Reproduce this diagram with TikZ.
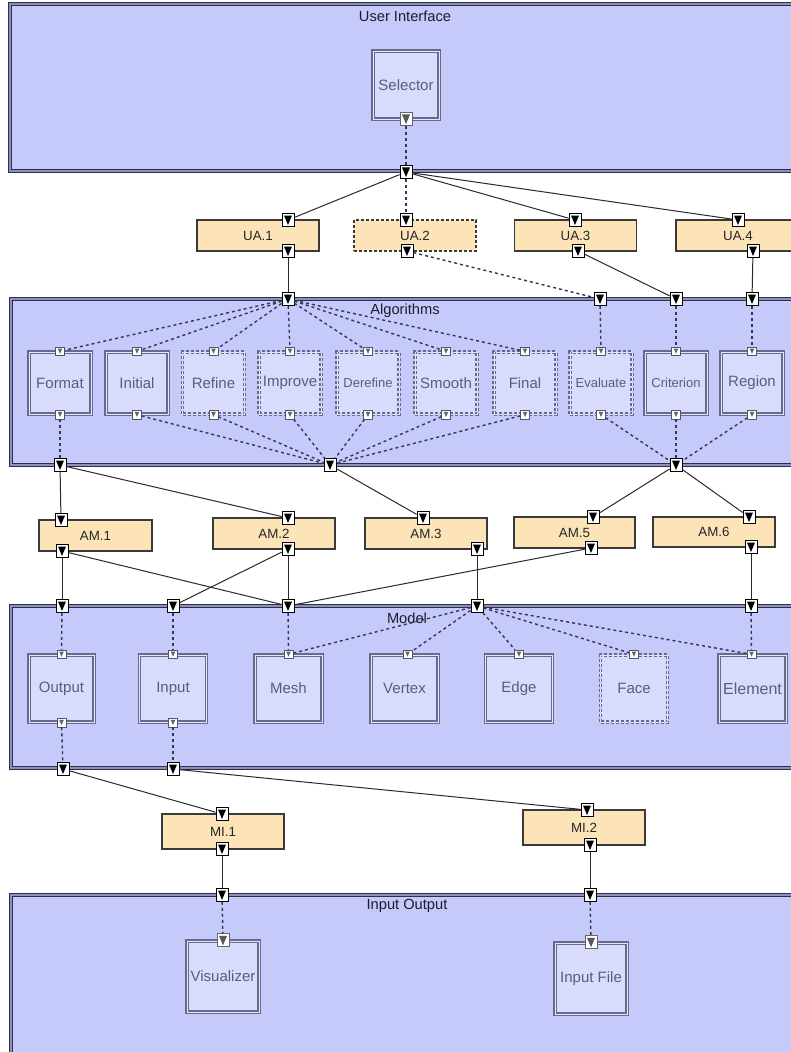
\documentclass[tikz,border=0pt]{standalone}
\usepackage{fontspec}
\setmainfont{Liberation Sans}
\usetikzlibrary{fit,calc}
\definecolor{bigfill}{HTML}{C6CAFA}
\definecolor{bigborder}{HTML}{2C3048}
\definecolor{bigdouble}{HTML}{8C90BC}
\definecolor{innerfill}{HTML}{D9DBFC}
\definecolor{innerborder}{HTML}{666A8C}
\definecolor{innerdouble}{HTML}{E6E7FB}
\definecolor{innertext}{HTML}{5A5C7C}
\definecolor{assocfill}{HTML}{FCE4B8}
\definecolor{assocborder}{HTML}{3A3A3A}
\definecolor{dashcol}{HTML}{34375C}
\definecolor{lineblack}{HTML}{2A2A2A}
\definecolor{titlecol}{HTML}{1C1C30}
\begin{document}
\begin{tikzpicture}[x=0.75pt,y=-0.75pt,
  bigbox/.style={draw=bigborder, line width=0.8pt, double=bigdouble, double distance=0.8pt, fill=bigfill, inner sep=0pt},
  innerbox/.style={draw=innerborder, line width=1pt, double=innerdouble, double distance=0.7pt, fill=innerfill, inner sep=0pt, text=innertext, font=\fontsize{11.25}{13}\selectfont},
  algbox/.style={minimum width=46.5pt, minimum height=46.5pt},
  modbox/.style={minimum width=50.25pt, minimum height=50.25pt},
  dashbox/.style={innerbox, dash pattern=on 2.25pt off 1.5pt},
  smalltext/.style={font=\fontsize{9.75}{11}\selectfont},
  bigtext/.style={font=\fontsize{12}{14}\selectfont},
  assoc/.style={fill=assocfill, draw=assocborder, line width=0.8pt, inner sep=0pt, text=black!85, font=\fontsize{10}{12}\selectfont, minimum width=91.5pt, minimum height=23.25pt},
  assocdash/.style={assoc, dash pattern=on 2.25pt off 1.5pt},
  title/.style={text=titlecol, inner sep=1pt, font=\fontsize{11}{13}\selectfont},
  bport/.style={rectangle, draw=black, fill=white, line width=0.6pt, minimum width=9pt, minimum height=9.75pt, inner sep=0pt,
    path picture={\fill[black] ($(path picture bounding box.north west)+(2,2)$) -- ($(path picture bounding box.north east)+(-2,2)$) -- ($(path picture bounding box.south)+(0,-1.5)$) -- cycle;}},
  gport/.style={rectangle, draw=black!60, fill=white, line width=0.6pt, minimum width=9pt, minimum height=9.75pt, inner sep=0pt,
    path picture={\fill[black!65] ($(path picture bounding box.north west)+(2,2)$) -- ($(path picture bounding box.north east)+(-2,2)$) -- ($(path picture bounding box.south)+(0,-1.5)$) -- cycle;}},
  sport/.style={rectangle, draw=innerborder!80!black, fill=white, line width=0.5pt, minimum width=6.5pt, minimum height=6.5pt, inner sep=0pt,
    path picture={\fill[black!60] ($(path picture bounding box.north west)+(2,1.5)$) -- ($(path picture bounding box.north east)+(-2,1.5)$) -- ($(path picture bounding box.south)+(0,-2)$) -- cycle;}},
  sline/.style={draw=lineblack, line width=0.75pt},
  dline/.style={draw=dashcol, line width=1.05pt, dash pattern=on 2.25pt off 2.25pt}
]
\useasboundingbox[fill=white] (0,0) rectangle (791,1052);
\clip (0,0) rectangle (791,1052);

% ---------- big containers ----------
\node[bigbox, fit={(10,4) (812,171)}] (ui) {};
\node[title] (uiT) at (405,16) {User Interface};
\node[bigbox, fit={(11,299) (812,465)}] (alg) {};
\node[title] (algT) at (405,311) {Algorithms};
\node[bigbox, fit={(11,606) (812,768)}] (model) {};
\node[title] (modelT) at (407,618) {Model};
\node[bigbox, fit={(11,895) (812,1062)}] (io) {};
\node[title] (ioT) at (407,906) {Input Output};

% ---------- inner components ----------
\node[innerbox, minimum width=49.5pt, minimum height=51pt] (sel) at (406,85) {Selector};

\node[innerbox, algbox] (format) at (60,383) {Format};
\node[innerbox, algbox] (initial) at (137,383) {Initial};
\node[dashbox, algbox] (refine) at (213.5,383) {Refine};
\node[dashbox, algbox] (improve) at (290,383) {Improve};
\node[dashbox, algbox, smalltext] (derefine) at (368,383) {Derefine};
\node[dashbox, algbox] (smooth) at (446,383) {Smooth};
\node[dashbox, algbox] (final) at (525,383) {Final};
\node[dashbox, algbox, smalltext] (evaluate) at (601,383) {Evaluate};
\node[innerbox, algbox, smalltext] (criterion) at (676,383) {Criterion};
\node[innerbox, algbox] (region) at (752,383) {Region};

\node[innerbox, modbox, minimum width=48.75pt] (output) at (61.5,688.5) {Output};
\node[innerbox, modbox] (input) at (173,688.5) {Input};
\node[innerbox, modbox] (mesh) at (288.5,688.5) {Mesh};
\node[innerbox, modbox] (vertex) at (404.5,688.5) {Vertex};
\node[innerbox, modbox] (edge) at (519,688.5) {Edge};
\node[dashbox, modbox] (face) at (634,688.5) {Face};
\node[innerbox, modbox, bigtext] (element) at (752.5,688.5) {Element};

\node[innerbox, minimum width=54pt, minimum height=53.25pt] (visual) at (223,976.5) {Visualizer};
\node[innerbox, minimum width=54pt, minimum height=53.25pt] (infile) at (591,978.5) {Input File};

% ---------- associations ----------
\node[assoc] (ua1) at (258,235.5) {UA.1};
\node[assocdash] (ua2) at (415,235.5) {UA.2};
\node[assoc] (ua3) at (575.5,235.5) {UA.3};
\node[assoc, minimum width=93pt] (ua4) at (738,235.5) {UA.4};

\node[assoc, minimum width=84.75pt] (am1) at (95.5,535.5) {AM.1};
\node[assoc] (am2) at (274,533.5) {AM.2};
\node[assoc] (am3) at (426,533.5) {AM.3};
\node[assoc, minimum width=90.75pt] (am5) at (574.5,532.5) {AM.5};
\node[assoc, minimum height=22.5pt] (am6) at (714,532) {AM.6};

\node[assoc, minimum height=26.25pt] (mi1) at (223,831.5) {MI.1};
\node[assoc, minimum height=26.25pt] (mi2) at (584,827.5) {MI.2};

% ---------- ports ----------
\node[gport] (selB) at (406,119) {};
\node[bport] (uiP) at (406,172) {};

\node[bport] (ua1T) at (288,220) {};
\node[bport] (ua1B) at (288,251) {};
\node[bport] (ua2T) at (406,220) {};
\node[bport] (ua2B) at (407,251) {};
\node[bport] (ua3T) at (575,220) {};
\node[bport] (ua3B) at (578,251) {};
\node[bport] (ua4T) at (738,220) {};
\node[bport] (ua4B) at (753,251) {};

\node[bport] (a1) at (288,299) {};
\node[bport] (a2) at (600,299) {};
\node[bport] (a3) at (676,299) {};
\node[bport] (a4) at (752,299) {};
\node[bport] (b1) at (60,465) {};
\node[bport] (b2) at (330,465) {};
\node[bport] (b3) at (676,465) {};

\foreach \n in {format,initial,refine,improve,derefine,smooth,final,evaluate,criterion,region}{
  \node[sport] (\n T) at (\n.north) {};
  \node[sport] (\n B) at (\n.south) {};
}

\node[bport] (am1T) at (61,520) {};
\node[bport] (am1B) at (62,551) {};
\node[bport] (am2T) at (288,518) {};
\node[bport] (am2B) at (288,549) {};
\node[bport] (am3T) at (423,518) {};
\node[bport] (am3B) at (477,549) {};
\node[bport] (am5T) at (593,517) {};
\node[bport] (am5B) at (591,548) {};
\node[bport] (am6T) at (749,517) {};
\node[bport] (am6B) at (751,547) {};

\node[bport] (m1) at (62,606) {};
\node[bport] (m2) at (173,606) {};
\node[bport] (m3) at (288,606) {};
\node[bport] (m4) at (477,606) {};
\node[bport] (m5) at (751,606) {};

\node[sport] (outputT) at (output.north) {};
\node[sport] (outputB) at (output.south) {};
\node[sport] (inputT) at (input.north) {};
\node[sport] (inputB) at (input.south) {};
\node[sport] (meshT) at (mesh.north) {};
\node[sport] (vertexT) at ($(vertex.north)+(3,0)$) {};
\node[sport] (edgeT) at (edge.north) {};
\node[sport] (faceT) at (face.north) {};
\node[sport] (elementT) at ($(element.north)+(-1,0)$) {};

\node[bport] (mb1) at (63,769) {};
\node[bport] (mb2) at (173,769) {};

\node[bport] (mi1T) at (222,814) {};
\node[bport] (mi1B) at (222,849) {};
\node[bport] (mi2T) at (587,810) {};
\node[bport] (mi2B) at (590,845) {};

\node[bport] (io1) at (222,895) {};
\node[bport] (io2) at (590,895) {};
\node[gport] (visualT) at (visual.north) {};
\node[gport] (infileT) at (infile.north) {};

% ---------- connectors ----------
\draw[dline] (selB) -- (uiP);
\draw[sline] (uiP) -- (ua1T);
\draw[dline] (uiP) -- (ua2T);
\draw[sline] (uiP) -- (ua3T);
\draw[sline] (uiP) -- (ua4T);

\draw[sline] (ua1B) -- (a1);
\draw[dline] (ua2B) -- (a2);
\draw[sline] (ua3B) -- (a3);
\draw[sline] (ua4B) -- (a4);

\foreach \n in {format,initial,refine,improve,derefine,smooth,final}{
  \draw[dline] (a1) -- (\n T);
}
\draw[dline] (a2) -- (evaluateT);
\draw[dline] (a3) -- (criterionT);
\draw[dline] (a4) -- (regionT);

\draw[dline] (formatB) -- (b1);
\foreach \n in {initial,refine,improve,derefine,smooth,final}{
  \draw[dline] (\n B) -- (b2);
}
\foreach \n in {evaluate,criterion,region}{
  \draw[dline] (\n B) -- (b3);
}

\draw[sline] (b1) -- (am1T);
\draw[sline] (b1) -- (am2T);
\draw[sline] (b2) -- (am3T);
\draw[sline] (b3) -- (am5T);
\draw[sline] (b3) -- (am6T);

\draw[sline] (am1B) -- (m1);
\draw[sline] (am1B) -- (m3);
\draw[sline] (am2B) -- (m2);
\draw[sline] (am2B) -- (m3);
\draw[sline] (am3B) -- (m4);
\draw[sline] (am5B) -- (m3);
\draw[sline] (am6B) -- (m5);

\draw[dline] (m1) -- (outputT);
\draw[dline] (m2) -- (inputT);
\draw[dline] (m3) -- (meshT);
\foreach \n in {mesh,vertex,edge,face,element}{
  \draw[dline] (m4) -- (\n T);
}
\draw[dline] (m5) -- (elementT);

\draw[dline] (outputB) -- (mb1);
\draw[dline] (inputB) -- (mb2);

\draw[sline] (mb1) -- (mi1T);
\draw[sline] (mb2) -- (mi2T);
\draw[sline] (mi1B) -- (io1);
\draw[sline] (mi2B) -- (io2);

\draw[dline] (io1) -- (visualT);
\draw[dline] (io2) -- (infileT);
\end{tikzpicture}
\end{document}
